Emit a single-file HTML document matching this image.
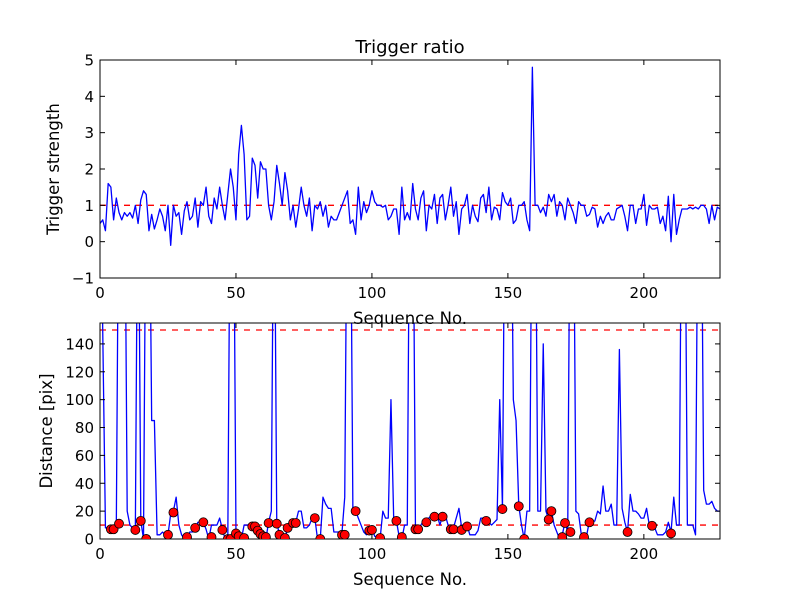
<!DOCTYPE html>
<html><head><meta charset="utf-8"><style>
body{margin:0;background:#fff;}
svg{display:block;font-family:"DejaVu Sans","Liberation Sans",sans-serif;}
</style></head><body>
<svg id="fig" width="800" height="600" xmlns="http://www.w3.org/2000/svg">
<rect width="800" height="600" fill="#fff"/>
<defs>
<clipPath id="c1"><rect x="100" y="60" width="620" height="218"/></clipPath>
<clipPath id="c2"><rect x="100" y="323" width="620" height="216"/></clipPath>
</defs>
<text x="410" y="53" font-size="18" text-anchor="middle">Trigger ratio</text>
<text x="410" y="324" font-size="16.5" text-anchor="middle">Sequence No.</text>
<text x="410" y="585" font-size="16.5" text-anchor="middle">Sequence No.</text>
<text transform="translate(59,169) rotate(-90)" font-size="16.5" text-anchor="middle">Trigger strength</text>
<text transform="translate(52,431) rotate(-90)" font-size="16.5" text-anchor="middle">Distance [pix]</text>
<g id="top"></g>
<g id="bot"></g>
</svg>
<script>
const topValues=[0.5,0.6,0.3,1.6,1.5,0.6,1.2,0.8,0.6,0.8,0.7,0.8,0.65,1.0,0.5,1.15,1.4,1.3,0.3,0.75,
0.35,0.6,0.9,0.7,0.3,1.0,-0.1,1.0,0.7,0.8,0.2,0.85,1.1,0.6,0.7,1.2,0.4,1.1,1.0,1.5,
0.7,0.5,1.2,0.9,1.5,1.0,0.6,1.3,2.0,1.5,0.6,2.4,3.2,2.4,0.6,0.7,2.3,2.1,1.2,2.2,
2.0,2.0,1.0,0.6,1.1,2.1,1.6,1.0,1.9,1.4,0.6,1.0,0.4,0.9,1.5,1.0,0.7,1.2,0.3,1.0,
0.9,1.1,0.7,1.0,0.4,0.7,0.6,0.6,0.8,1.0,1.2,1.4,0.5,0.6,0.2,1.5,0.6,1.1,0.8,1.0,
1.4,1.1,1.0,1.0,0.95,1.0,0.6,0.7,0.9,0.9,0.2,1.5,0.6,0.8,0.6,1.6,0.9,0.6,1.2,1.4,
0.3,1.0,0.9,1.3,0.5,1.2,1.3,0.6,1.0,1.5,0.7,1.1,0.2,0.9,1.0,1.3,0.5,1.0,0.7,0.55,
1.2,1.3,0.8,1.5,0.6,0.95,0.9,0.6,1.35,1.1,1.0,1.2,0.5,0.6,1.0,1.0,1.1,0.6,0.3,4.8,
1.0,1.0,0.8,0.95,0.7,1.3,1.1,1.3,0.7,1.1,1.0,0.6,1.2,1.0,0.8,0.5,1.1,1.0,1.0,0.7,
0.75,0.95,0.9,0.4,0.7,0.5,0.7,0.8,0.6,0.6,0.9,0.95,1.0,0.7,0.3,1.0,1.0,0.5,0.9,0.9,
1.3,0.45,1.0,0.9,0.9,0.95,0.5,0.7,0.3,1.25,0.0,1.3,0.2,0.6,0.9,0.9,0.9,0.95,0.9,0.95,
0.9,1.0,1.0,0.9,0.5,1.0,0.6,0.95,0.9];
const botValues=[300,150,8,8,8,8,10,300,300,300,20,10,8,7,300,13,0,300,300,85,
85,3,3,5,3,3,18,20,30,10,3,0,0,5,5,7,12,12,12,7,
0,10,10,10,15,7,0,0,300,300,5,2,0,10,10,10,10,10,6,3,
1,0,12,20,300,12,3,0,0,8,12,12,12,20,20,8,8,10,15,15,
0,0,30,25,22,22,5,5,5,5,30,300,300,20,20,15,10,5,3,7,
8,2,1,0,20,15,15,100,15,13,2,0,10,10,300,300,8,8,10,13,
15,15,18,18,17,10,17,17,10,8,8,15,22,8,6,10,3,3,3,6,
15,15,13,12,10,12,14,100,22,300,300,300,100,85,24,10,0,20,20,300,
300,20,20,140,20,14,20,10,5,0,3,12,5,300,300,20,18,3,2,3,
13,12,13,20,18,38,20,20,25,10,10,136,22,12,5,32,20,20,18,15,
15,22,10,10,8,3,3,3,5,12,5,30,10,10,300,300,10,10,10,3,
300,300,35,25,25,27,22,20,20];
const dotX=[4,5,7,13,15,17,17,25,27,32,35,38,41,45,47,48,50,51,53,56,57,58,59,60,61,62,65,66,68,69,71,72,79,81,89,90,94,99,100,103,109,111,116,117,120,123,126,129,130,133,135,142,148,154,156,165,166,170,171,173,178,180,194,203,210];
const dotY=[7,7,11,6.5,13,0,0,3,19,1.4,8,12,1.4,6.5,0,0,4,2,0.7,9,9,6,3.6,2,1.4,11.5,11,3,0.7,8,11.5,11.5,15,0,3,3,20,6,6.5,0.7,13,1.4,7,7,12,16,16,7,7,6.5,9,13,21.5,23.5,0,14,20,1.4,11.5,5,1.4,12,5,9.5,4];
const xTicks=[0,50,100,150,200];
const topYTicks=[-1,0,1,2,3,4,5];
const botYTicks=[0,20,40,60,80,100,120,140];
const topThresholds=[1];
const botThresholds=[10,150];

const NS="http://www.w3.org/2000/svg";
const L=100,R=720,XMAX=228;
const xs=v=>L+(v/XMAX)*(R-L);
function mk(tag,attrs,parent){const e=document.createElementNS(NS,tag);for(const k in attrs)e.setAttribute(k,attrs[k]);parent.appendChild(e);return e;}

function panel(g,top,bottom,ymin,ymax,yTicks,clip,vals,thr,name){
  const ys=v=>bottom-(v-ymin)/(ymax-ymin)*(bottom-top);
  thr.forEach(t=>{const l=mk('line',{x1:L,x2:R,y1:ys(t),y2:ys(t),stroke:'#ff0000','stroke-width':1.3,'stroke-dasharray':'6,6','clip-path':clip},g);
    
    });
  const p=mk('path',{d:vals.map((v,i)=>(i?'L':'M')+xs(i).toFixed(2)+','+ys(v).toFixed(2)).join(''),fill:'none',stroke:'#0000ff','stroke-width':1.3,'stroke-linejoin':'round','clip-path':clip},g);
  
  
  const f=mk('rect',{x:L,y:top,width:R-L,height:bottom-top,fill:'none',stroke:'#000','stroke-width':1},g);
  
  
  xTicks.forEach(t=>{const x=xs(t);
    mk('line',{x1:x,x2:x,y1:bottom,y2:bottom-5,stroke:'#000'},g);
    mk('line',{x1:x,x2:x,y1:top,y2:top+5,stroke:'#000'},g);
    const tx=mk('text',{x:x,y:bottom+20,'font-size':15,'text-anchor':'middle'},g);tx.textContent=t;
    
    });
  yTicks.forEach(t=>{const y=ys(t);
    mk('line',{x1:L,x2:L+5,y1:y,y2:y,stroke:'#000'},g);
    mk('line',{x1:R,x2:R-5,y1:y,y2:y,stroke:'#000'},g);
    const tx=mk('text',{x:L-6,y:y+5.5,'font-size':15,'text-anchor':'end'},g);tx.textContent=(t<0?'\u2212'+(-t):t);
    
    });
  return ys;
}
const gt=document.getElementById('top'),gb=document.getElementById('bot');
panel(gt,60,278,-1,5,topYTicks,'url(#c1)',topValues,topThresholds,'trigger');
const ysb=panel(gb,323,539,0,155,botYTicks,'url(#c2)',botValues,botThresholds,'distance');
dotX.forEach((x,i)=>{const c=mk('circle',{cx:xs(x),cy:ysb(dotY[i]),r:4.5,fill:'#ff0000',stroke:'#000','stroke-width':0.8,'clip-path':'url(#c2)'},gb);
  
  });
</script>
</body></html>
